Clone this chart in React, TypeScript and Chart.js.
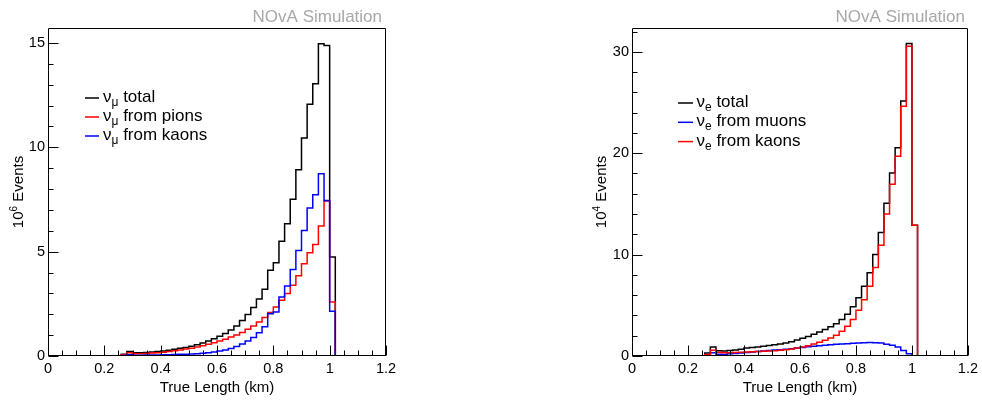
import React, { useEffect, useRef } from "react";
import { Chart, registerables } from "chart.js";

Chart.register(...registerables);

const FONT = '"Liberation Sans", Arial, Helvetica, sans-serif';

// Bins: 60 bins of 0.02 km from 0 to 1.2 km (lower edges + final upper edge)
const N_BINS = 60;
const BIN_WIDTH_KM = 0.02;
const BIN_EDGES = Array.from({ length: N_BINS + 1 }, (_, i) => Math.round(i * BIN_WIDTH_KM * 100) / 100);

const X_TICKS = [0, 0.2, 0.4, 0.6, 0.8, 1, 1.2];
const NUMU_Y_TICKS = [0, 5, 10, 15];
const NUE_Y_TICKS = [0, 10, 20, 30];

const Z13 = [0, 0, 0, 0, 0, 0, 0, 0, 0, 0, 0, 0, 0];
const Z9 = [0, 0, 0, 0, 0, 0, 0, 0, 0];

// Left panel (10^6 events)
const NUMU_TOTAL = [...Z13,
  0.08, 0.22, 0.15, 0.15, 0.17, 0.19, 0.21, 0.24, 0.27, 0.32,
  0.37, 0.41, 0.47, 0.54, 0.62, 0.72, 0.83, 0.95, 1.08, 1.25,
  1.44, 1.70, 1.99, 2.32, 2.73, 3.20, 4.11, 4.47, 5.50, 6.34,
  7.51, 8.93, 10.45, 12.06, 13.05, 14.97, 14.88, 4.74, ...Z9];
const NUMU_PIONS = [...Z13,
  0.06, 0.15, 0.11, 0.11, 0.12, 0.14, 0.16, 0.18, 0.21, 0.25,
  0.29, 0.33, 0.37, 0.43, 0.49, 0.56, 0.64, 0.72, 0.80, 0.91,
  1.01, 1.13, 1.28, 1.44, 1.63, 1.84, 2.08, 2.35, 2.67, 2.99,
  3.39, 3.85, 4.42, 4.95, 5.34, 6.23, 7.43, 2.59, ...Z9];
const NUMU_KAONS = [...Z13,
  0.02, 0.06, 0.04, 0.04, 0.05, 0.05, 0.05, 0.06, 0.06, 0.07,
  0.08, 0.08, 0.10, 0.11, 0.13, 0.16, 0.19, 0.24, 0.29, 0.36,
  0.45, 0.58, 0.72, 0.89, 1.11, 1.40, 2.03, 2.11, 2.83, 3.35,
  4.14, 5.06, 6.02, 7.09, 7.73, 8.74, 7.45, 2.14, ...Z9];

// Right panel (10^4 events)
const NUE_TOTAL = [...Z13,
  0.30, 0.89, 0.53, 0.49, 0.55, 0.60, 0.67, 0.80, 0.84, 0.89,
  0.96, 1.03, 1.10, 1.18, 1.29, 1.41, 1.57, 1.74, 1.92, 2.14,
  2.37, 2.61, 2.88, 3.19, 3.61, 4.12, 4.86, 5.75, 6.88, 8.20,
  10.00, 12.17, 15.07, 18.06, 20.53, 25.16, 30.82, 12.89, ...Z9];
const NUE_MUONS = [...Z13,
  0.13, 0.33, 0.17, 0.16, 0.22, 0.25, 0.30, 0.35, 0.40, 0.45,
  0.50, 0.54, 0.58, 0.62, 0.67, 0.72, 0.78, 0.85, 0.90, 0.96,
  1.02, 1.06, 1.10, 1.15, 1.18, 1.21, 1.25, 1.28, 1.31, 1.33,
  1.31, 1.27, 1.15, 1.05, 0.88, 0.55, 0.22, 0.00, ...Z9];
const NUE_KAONS = [...Z13,
  0.16, 0.56, 0.36, 0.33, 0.33, 0.35, 0.37, 0.40, 0.42, 0.44,
  0.46, 0.49, 0.52, 0.56, 0.62, 0.69, 0.79, 0.89, 1.02, 1.18,
  1.35, 1.55, 1.78, 2.04, 2.43, 2.93, 3.59, 4.50, 5.56, 6.88,
  8.72, 10.92, 14.00, 16.94, 19.70, 24.64, 30.56, 12.89, ...Z9];

const BLACK = "#000000";
const RED = "#ff0000";
const BLUE = "#0000ff";

type Entry = { sub: string; label: string; color: string; values: number[] };

type PanelCfg = {
  left: number;
  yMax: number;
  yTicks: number[];
  yMinor: number;
  minorPerMajor: number;
  yWidth: number;
  padRight: number;
  expLabel: string;
  yTitleX: number;
  simRight: number;
  legendLineX0: number;
  legendLineX1: number;
  legendTextX: number;
  legendBaseline: number;
  legendStep: number;
  entries: Entry[];
};

const PANELS: PanelCfg[] = [
  {
    left: 0,
    yMax: 15.72,
    yTicks: NUMU_Y_TICKS,
    yMinor: 1,
    minorPerMajor: 5,
    yWidth: 48,
    padRight: 105,
    expLabel: "6",
    yTitleX: 23,
    simRight: 382,
    legendLineX0: 85,
    legendLineX1: 99,
    legendTextX: 103,
    legendBaseline: 102,
    legendStep: 19,
    entries: [
      { sub: "\u03bc", label: "total", color: BLACK, values: NUMU_TOTAL },
      { sub: "\u03bc", label: "from pions", color: RED, values: NUMU_PIONS },
      { sub: "\u03bc", label: "from kaons", color: BLUE, values: NUMU_KAONS },
    ],
  },
  {
    left: 491,
    yMax: 32.35,
    yTicks: NUE_Y_TICKS,
    yMinor: 2,
    minorPerMajor: 5,
    yWidth: 141,
    padRight: 12,
    expLabel: "4",
    yTitleX: 115,
    simRight: 474,
    legendLineX0: 187,
    legendLineX1: 202,
    legendTextX: 205.5,
    legendBaseline: 107,
    legendStep: 19.3,
    entries: [
      { sub: "e", label: "total", color: BLACK, values: NUE_TOTAL },
      { sub: "e", label: "from muons", color: BLUE, values: NUE_MUONS },
      { sub: "e", label: "from kaons", color: RED, values: NUE_KAONS },
    ],
  },
];

function toSteps(values: number[]) {
  const pts = values.map((v, i) => ({ x: BIN_EDGES[i], y: v }));
  pts.push({ x: BIN_EDGES[N_BINS], y: values[N_BINS - 1] });
  return pts;
}

function fmt(v: number) {
  return String(Math.round(v * 10) / 10);
}

function makeDecor(cfg: PanelCfg) {
  return {
    id: "rootDecor",
    afterDraw(chart: any) {
      const ctx = chart.ctx as CanvasRenderingContext2D;
      const { left, right, top, bottom } = chart.chartArea;
      const xs = chart.scales.x;
      const ys = chart.scales.y;
      const L = Math.round(left) + 0.5;
      const R = Math.round(right) - 0.5;
      const T = Math.round(top) + 0.5;
      const B = Math.round(bottom) - 0.5;
      ctx.save();
      ctx.strokeStyle = "#000000";
      ctx.lineWidth = 1;
      ctx.setLineDash([]);
      ctx.beginPath();
      // frame
      ctx.moveTo(L, T);
      ctx.lineTo(R, T);
      ctx.lineTo(R, B);
      ctx.lineTo(L, B);
      ctx.closePath();
      // x ticks (inside)
      for (let k = 0; k <= 24; k++) {
        const px = Math.round(xs.getPixelForValue(k * 0.05)) + 0.5;
        const len = k % 4 === 0 ? 10 : 5;
        ctx.moveTo(px, B);
        ctx.lineTo(px, B - len);
      }
      // y ticks (inside)
      const nMinor = Math.floor(cfg.yMax / cfg.yMinor + 1e-6);
      for (let k = 0; k <= nMinor; k++) {
        const py = Math.round(ys.getPixelForValue(k * cfg.yMinor)) + 0.5;
        const len = k % cfg.minorPerMajor === 0 ? 10 : 5;
        ctx.moveTo(L, py);
        ctx.lineTo(L + len, py);
      }
      ctx.stroke();

      // x title
      ctx.fillStyle = "#000";
      ctx.font = `15px ${FONT}`;
      ctx.textAlign = "center";
      ctx.textBaseline = "alphabetic";
      ctx.fillText("True Length (km)", (left + right) / 2, 392);

      // y title (rotated) with superscript exponent
      const cy = (top + bottom) / 2;
      ctx.font = `15px ${FONT}`;
      const w10 = ctx.measureText("10").width;
      const wEv = ctx.measureText(" Events").width;
      ctx.font = `10px ${FONT}`;
      const wExp = ctx.measureText(cfg.expLabel).width;
      const total = w10 + wExp + wEv;
      ctx.save();
      ctx.translate(cfg.yTitleX, cy);
      ctx.rotate(-Math.PI / 2);
      ctx.textAlign = "left";
      let tx = -total / 2;
      ctx.font = `15px ${FONT}`;
      ctx.fillText("10", tx, 0);
      tx += w10;
      ctx.font = `10px ${FONT}`;
      ctx.fillText(cfg.expLabel, tx, -6);
      tx += wExp;
      ctx.font = `15px ${FONT}`;
      ctx.fillText(" Events", tx, 0);
      ctx.restore();

      // NOvA Simulation label
      ctx.fillStyle = "#a8a8a8";
      ctx.font = `17px ${FONT}`;
      ctx.textAlign = "right";
      ctx.textBaseline = "alphabetic";
      ctx.fillText("NOvA Simulation", cfg.simRight, 22);

      // legend
      ctx.textAlign = "left";
      cfg.entries.forEach((e, i) => {
        const base = cfg.legendBaseline + i * cfg.legendStep;
        ctx.strokeStyle = e.color;
        ctx.lineWidth = 1.5;
        ctx.beginPath();
        ctx.moveTo(cfg.legendLineX0, base - 4);
        ctx.lineTo(cfg.legendLineX1, base - 4);
        ctx.stroke();
        ctx.fillStyle = "#000";
        let x = cfg.legendTextX;
        ctx.font = `17px ${FONT}`;
        ctx.fillText("\u03bd", x, base);
        x += ctx.measureText("\u03bd").width;
        ctx.font = `12px ${FONT}`;
        ctx.fillText(e.sub, x, base + 4);
        x += ctx.measureText(e.sub).width;
        ctx.font = `17px ${FONT}`;
        ctx.fillText(" " + e.label, x, base);
      });
      ctx.restore();
    },
  };
}

function Panel({ cfg }: { cfg: PanelCfg }) {
  const ref = useRef<HTMLCanvasElement>(null);
  useEffect(() => {
    const canvas = ref.current!;
    const n = cfg.entries.length;
    const chart = new Chart(canvas, {
      type: "line",
      data: {
        datasets: cfg.entries.map((e, i) => ({
          label: e.label,
          data: toSteps(e.values),
          borderColor: e.color,
          backgroundColor: e.color,
          borderWidth: 1.5,
          pointRadius: 0,
          pointHoverRadius: 0,
          fill: false,
          stepped: "before" as const,
          tension: 0,
          order: n - i,
        })),
      },
      options: {
        responsive: false,
        animation: false,
        devicePixelRatio: 1,
        events: [],
        layout: { padding: { left: 0, right: cfg.padRight, top: 28, bottom: 0 } },
        plugins: { legend: { display: false }, tooltip: { enabled: false }, title: { display: false } },
        scales: {
          x: {
            type: "linear",
            min: 0,
            max: 1.2,
            grid: { display: false, drawTicks: false, tickLength: 0 },
            border: { display: false },
            afterBuildTicks: (s: any) => {
              s.ticks = X_TICKS.map((v) => ({ value: v }));
            },
            afterFit: (s: any) => {
              s.height = 44;
            },
            ticks: {
              autoSkip: false,
              maxRotation: 0,
              minRotation: 0,
              padding: 4,
              color: "#000",
              font: { family: FONT, size: 14.5 },
              callback: (v: any) => fmt(Number(v)),
            },
          },
          y: {
            type: "linear",
            min: 0,
            max: cfg.yMax,
            grid: { display: false, drawTicks: false, tickLength: 0 },
            border: { display: false },
            afterBuildTicks: (s: any) => {
              s.ticks = cfg.yTicks.map((v) => ({ value: v }));
            },
            afterFit: (s: any) => {
              s.width = cfg.yWidth;
            },
            ticks: {
              autoSkip: false,
              padding: 3,
              color: "#000",
              font: { family: FONT, size: 14.5 },
              callback: (v: any) => fmt(Number(v)),
            },
          },
        },
      },
      plugins: [makeDecor(cfg)],
    } as any);
    return () => chart.destroy();
  }, [cfg]);
  return (
    <canvas
      ref={ref}
      width={491}
      height={400}
      style={{ position: "absolute", left: cfg.left, top: 0, width: 491, height: 400 }}
    />
  );
}

export default function App() {
  return (
    <div style={{ position: "absolute", left: 0, top: 0, width: 982, height: 400, background: "#fff", overflow: "hidden" }}>
      {PANELS.map((p, i) => (
        <Panel key={i} cfg={p} />
      ))}
    </div>
  );
}
